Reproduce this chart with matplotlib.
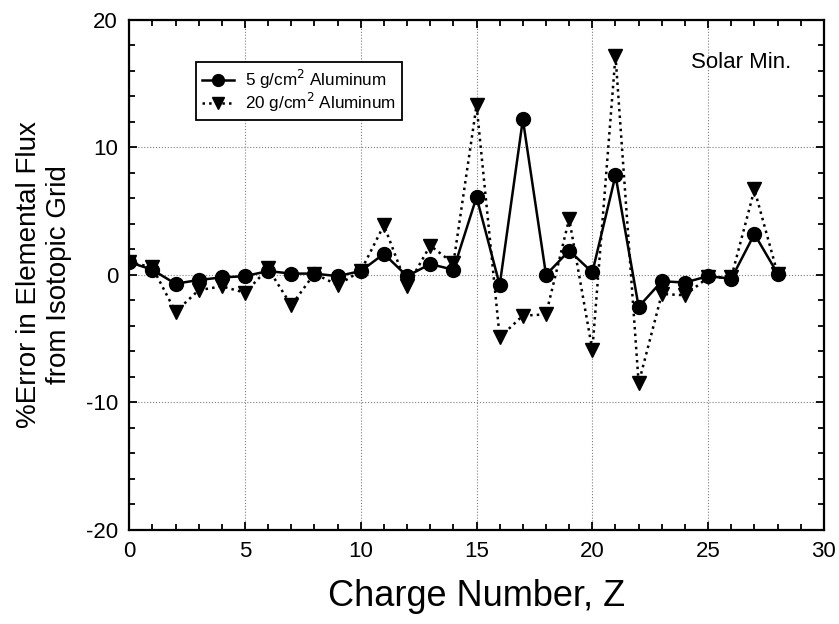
import matplotlib.pyplot as plt
from matplotlib.ticker import MultipleLocator

plt.rcParams['font.family'] = ['Liberation Sans', 'DejaVu Sans']
plt.rcParams['axes.unicode_minus'] = False

# charge number Z
z = list(range(29))

# % error, 5 g/cm2 aluminum shielding
err_5 = [1.0, 0.4, -0.7, -0.4, -0.2, -0.1, 0.3, 0.1, 0.1, -0.1,
         0.3, 1.65, -0.1, 0.85, 0.4, 6.1, -0.8, 12.2, 0.0, 1.9,
         0.2, 7.8, -2.5, -0.5, -0.6, -0.1, -0.3, 3.2, 0.1]

# % error, 20 g/cm2 aluminum shielding
err_20 = [1.0, 0.6, -2.9, -1.2, -0.9, -1.4, 0.5, -2.4, 0.1, -0.8,
          0.3, 3.9, -0.9, 2.3, 0.9, 13.3, -4.9, -3.2, -3.1, 4.4,
          -5.9, 17.2, -8.5, -1.5, -1.6, -0.2, -0.2, 6.7, 0.1]

fig = plt.figure(figsize=(8.39, 6.24), dpi=100)
ax = fig.add_axes([0.154, 0.151, 0.828, 0.817])

ax.plot(z, err_5, '-', color='black', lw=1.8, marker='o', ms=10,
        label=r'5 g/cm$^2$ Aluminum', zorder=3)
ax.plot(z, err_20, ':', color='black', lw=1.8, marker='v', ms=10,
        label=r'20 g/cm$^2$ Aluminum', zorder=3)

ax.set_xlim(0, 30)
ax.set_ylim(-20, 20)
ax.xaxis.set_major_locator(MultipleLocator(5))
ax.xaxis.set_minor_locator(MultipleLocator(1))
ax.yaxis.set_major_locator(MultipleLocator(10))
ax.yaxis.set_minor_locator(MultipleLocator(2))
ax.tick_params(which='both', direction='in', top=True, right=True,
               labelsize=16, width=1.3)
ax.tick_params(which='major', length=6, pad=8)
ax.tick_params(which='minor', length=4)
for s in ax.spines.values():
    s.set_linewidth(1.6)

ax.grid(True, which='major', color='gray', ls=':', lw=0.8)

ax.set_xlabel('Charge Number, Z', fontsize=26, labelpad=12)
ax.set_ylabel('%Error in Elemental Flux\nfrom Isotopic Grid', fontsize=20,
              labelpad=10)

ax.text(28.6, 16.7, 'Solar Min.', fontsize=16, ha='right', va='center')

leg = ax.legend(loc='upper left', bbox_to_anchor=(0.096, 0.918),
                fontsize=12.3, frameon=True, fancybox=False, edgecolor='black',
                framealpha=1, handlelength=1.9, handletextpad=0.6,
                borderpad=0.35, labelspacing=0.0, borderaxespad=0,
                markerscale=0.85)
leg.get_frame().set_linewidth(1.3)

fig.savefig('out.png', dpi=100)
